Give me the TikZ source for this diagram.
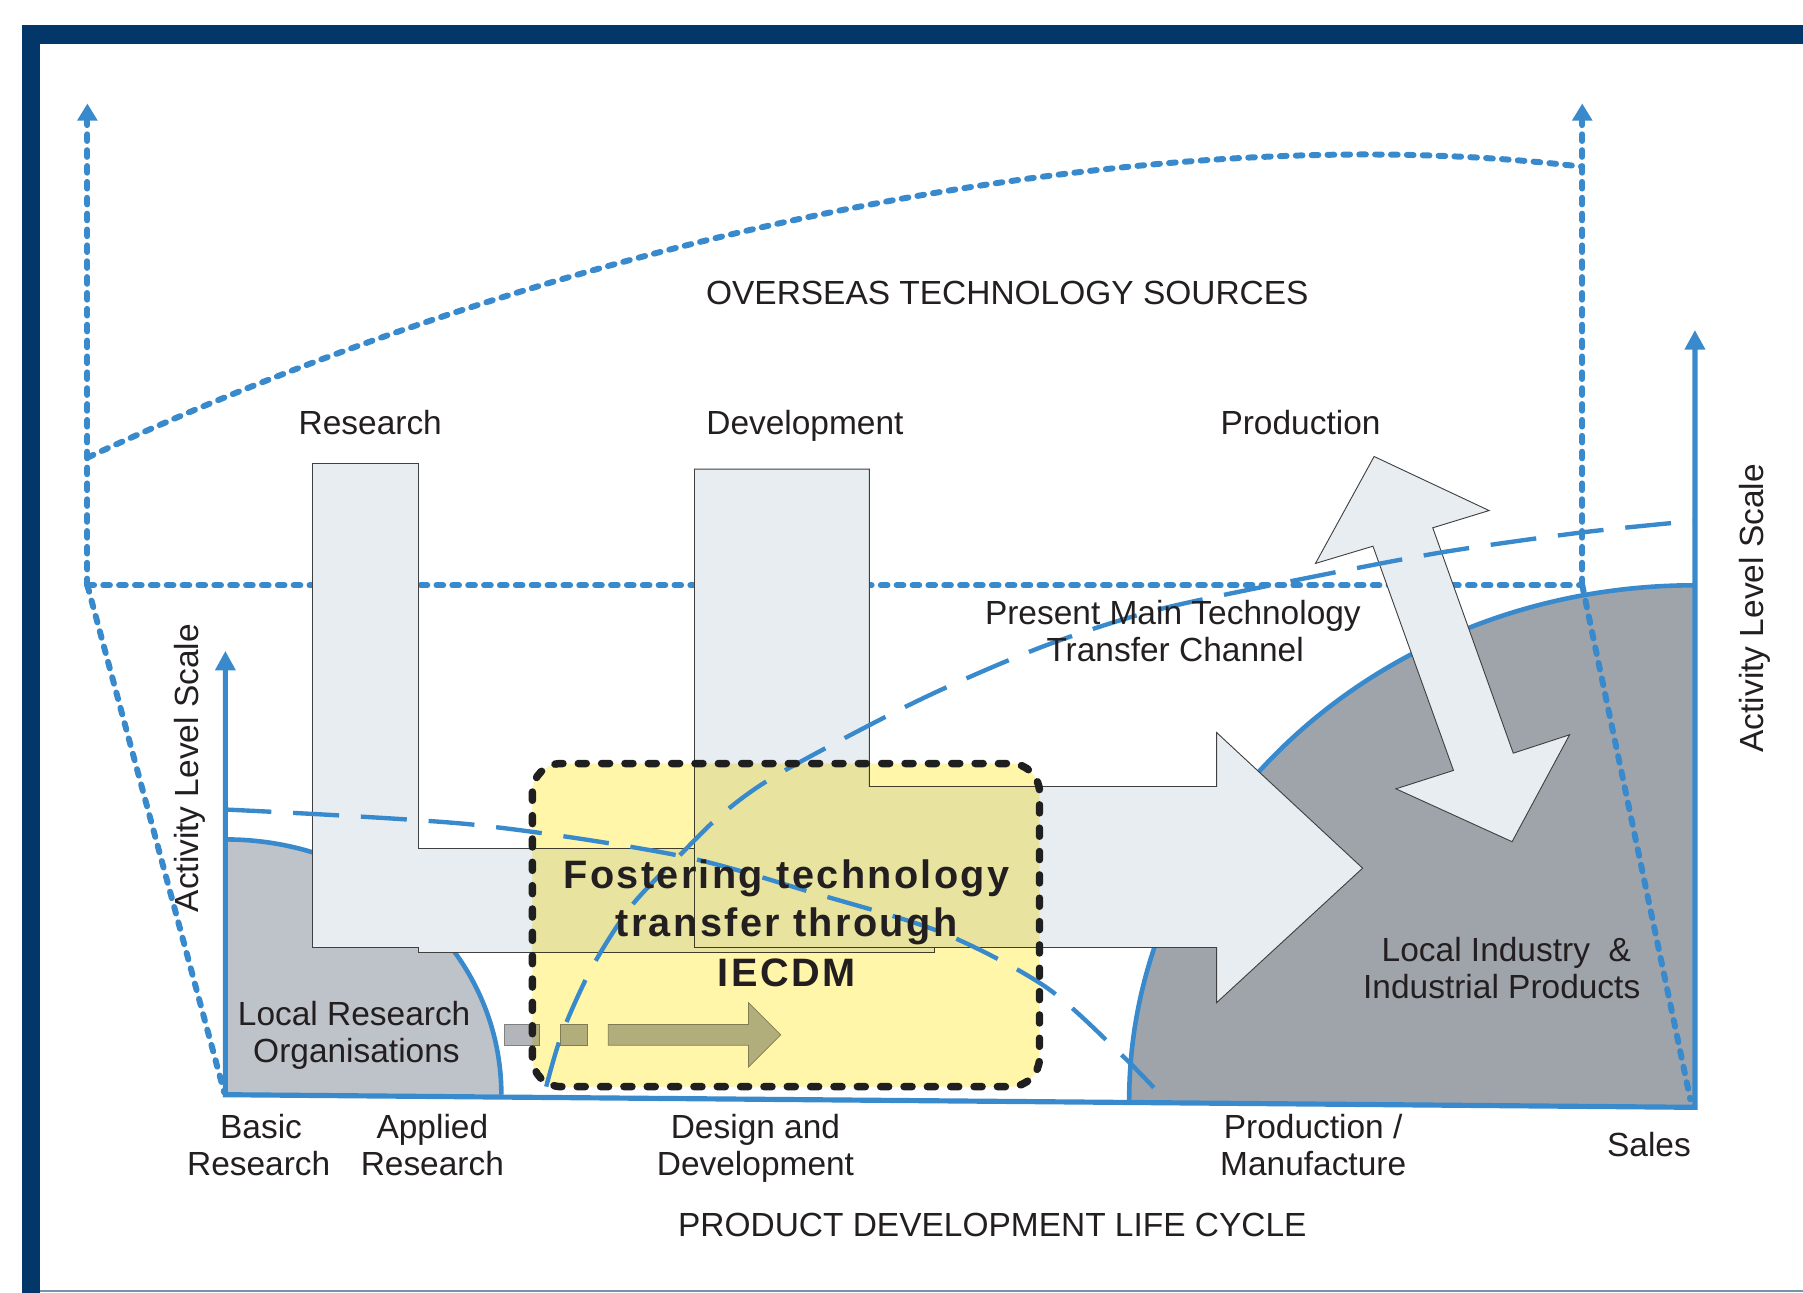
\documentclass[tikz,border=0pt]{standalone}
\usepackage{fontspec}
\setmainfont{Liberation Sans}
\newfontfamily\boldfam[LetterSpace=6]{Liberation Sans}
\usetikzlibrary{arrows.meta}
\definecolor{navy}{RGB}{3,55,105}
\definecolor{lineblue}{RGB}{57,138,204}
\definecolor{arrowfill}{RGB}{232,237,241}
\definecolor{lgray}{RGB}{190,194,201}
\definecolor{dgray}{RGB}{159,164,171}
\definecolor{boxyellow}{RGB}{255,246,170}
\definecolor{txt}{RGB}{35,31,32}
\definecolor{smallgray}{RGB}{178,181,185}
\definecolor{frameline}{RGB}{122,147,173}
\begin{document}
\begin{tikzpicture}[x=1pt,y=-1pt,
  dotblue/.style={draw=lineblue, line width=5.2, dash pattern=on 5.8pt off 8pt, line cap=round},
  dashblue/.style={draw=lineblue, line width=3.8, dash pattern=on 40pt off 19pt},
  axisline/.style={draw=lineblue, line width=4.5},
  arcline/.style={draw=lineblue, line width=4},
  bigarrow/.style={fill=arrowfill, draw=black!75, line width=0.8},
  boxborder/.style={draw=black!88, line width=6.5, dash pattern=on 7pt off 13.3pt, line cap=round, rounded corners=25},
  lbl/.style={text=txt, font=\fontsize{29.1}{32}\selectfont, anchor=base, inner sep=0pt},
  boldlbl/.style={text=txt, font=\fontsize{34.5}{42}\boldfam\bfseries, anchor=base, inner sep=0pt},
  sidelbl/.style={text=txt, font=\fontsize{29.1}{32}\selectfont, rotate=90, inner sep=0pt},
  tipsmall/.style={-{Triangle[length=15pt,width=17pt]}},
]
\useasboundingbox (0,0) rectangle (1568,1124.3);

% frame
\draw[navy, line width=16] (27,1124.3) -- (27,30) -- (1568,30);
\draw[frameline, line width=2] (35,1123) -- (1568,1123);

% regions
\fill[lgray] (196,730) .. controls (328.6,730) and (436,828.5) .. (436,952) -- (196,952) -- cycle;
\draw[arcline] (196,730) .. controls (328.6,730) and (436,828.5) .. (436,952);
\fill[dgray] (982,957) .. controls (982,709) and (1201.8,509) .. (1474,509) -- (1474,963) -- cycle;
\draw[arcline] (982,957) .. controls (982,709) and (1201.8,509) .. (1474,509);

% dotted overseas frame
\coordinate (lb) at (76,509);
\coordinate (rb) at (1376,509);
\coordinate (lt) at (76,90);
\coordinate (rt) at (1376,90);
\coordinate (lc) at (76,398);
\coordinate (rc) at (1376,145);
\coordinate (ll) at (195,950);
\coordinate (rl) at (1470,956);
\draw[dotblue] (lc) .. controls (500,200) and (1000,100) .. (rc);
\draw[dotblue, tipsmall] (lb) -- (lt);
\draw[dotblue, tipsmall] (rb) -- (rt);
\draw[dotblue] (lb) -- (rb);
\draw[dotblue] (lb) -- (ll);
\draw[dotblue] (rb) -- (rl);

% L-shaped arrows
\draw[bigarrow] (272,403) -- (364,403) -- (364,738) -- (813,738) -- (813,828) -- (364,828) -- (364,824) -- (272,824) -- cycle;
\draw[bigarrow] (604,408) -- (756,408) -- (756,684) -- (1058,684) -- (1058,637) -- (1185,755) -- (1058,872) -- (1058,824) -- (604,824) -- cycle;
% double arrow
\draw[bigarrow] (1195,397) -- (1295,444) -- (1246,459) -- (1316,655) -- (1365,639) -- (1315,732) -- (1214,686) -- (1264,670) -- (1194,475) -- (1144,490) -- cycle;

% small arrow and squares
\draw[fill=smallgray, draw=black!50, line width=0.7] (439,891) rectangle (469,909);
\draw[fill=smallgray, draw=black!50, line width=0.7] (487,891) rectangle (511,909);
\draw[fill=smallgray, draw=black!50, line width=0.7] (529,891) -- (651,891) -- (651,872) -- (679,900) -- (651,928) -- (651,909) -- (529,909) -- cycle;

% yellow box fill
\begin{scope}[blend mode=multiply]
\fill[boxyellow, rounded corners=25] (463,664) rectangle (904,945);
\end{scope}

% dashed curves
\draw[dashblue] plot[smooth] coordinates {(475,945) (489,898) (515,841) (549,788) (590,745) (629,707) (679,672) (799,609) (905,563) (1000,532) (1110,508) (1250,481) (1376,463) (1474,453)};
\draw[dashblue] plot[smooth] coordinates {(196,704) (410,717) (590,744) (709,777) (819,811) (909,858) (975,917) (1013,956)};

% box border
\draw[boxborder] (463,664) rectangle (904,945);

% axes
\draw[axisline, {Triangle[length=17pt,width=17pt]}-{Triangle[length=17pt,width=17pt]}] (196,566) -- (196,952) -- (1474,963) -- (1474,287);

% texts
\node[lbl] (ots) at (876,265) {OVERSEAS TECHNOLOGY SOURCES};
\node[lbl] (res) at (322,378) {Research};
\node[lbl] (dev) at (700,378) {Development};
\node[lbl] (pro) at (1131,378) {Production};
\node[lbl] (pm1) at (1020,543) {Present Main Technology};
\node[lbl] (pm2) at (1022,575) {Transfer Channel};
\node[sidelbl] (als1) at (165,668) {Activity Level Scale};
\node[sidelbl] (als2) at (1526,529) {Activity Level Scale};
\node[boldlbl] (f1) at (684,772.5) {Fostering technology};
\node[boldlbl] (f2) at (684,814.5) {transfer through};
\node[boldlbl] (f3) at (684,858) {IECDM};
\node[lbl] (lr1) at (308,892) {Local Research};
\node[lbl] (lr2) at (310,924) {Organisations};
\node[lbl] (li1) at (1310,836) {Local Industry\ \ \&};
\node[lbl] (li2) at (1306,868) {Industrial Products};
\node[lbl] (b1) at (227,990) {Basic};
\node[lbl] (b2) at (225,1022) {Research};
\node[lbl] (a1) at (376,990) {Applied};
\node[lbl] (a2) at (376,1022) {Research};
\node[lbl] (d1) at (657,990) {Design and};
\node[lbl] (d2) at (657,1022) {Development};
\node[lbl] (p1) at (1142,990) {Production /};
\node[lbl] (p2) at (1142,1022) {Manufacture};
\node[lbl] (sal) at (1434,1006) {Sales};
\node[lbl] (pdl) at (863,1075) {PRODUCT DEVELOPMENT LIFE CYCLE};
\end{tikzpicture}
\end{document}
